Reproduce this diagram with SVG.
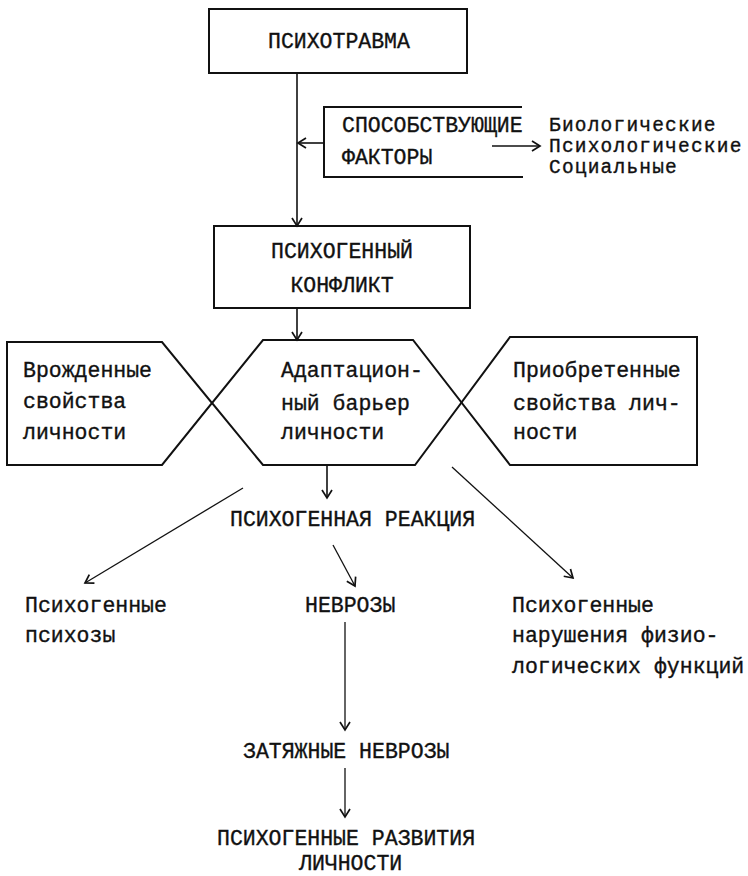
<svg xmlns="http://www.w3.org/2000/svg" width="748" height="876" viewBox="0 0 748 876">
  <style>
    .shape { fill: none; stroke: #111; stroke-width: 2; stroke-linejoin: miter; }
    .conn { fill: none; stroke: #111; stroke-width: 1.6; }
    .thin { stroke-width: 1.3; }
    text { font-family: "Liberation Mono", "DejaVu Sans Mono", monospace; font-size: 21.5px; fill: #111; stroke: #111; stroke-width: 0.35; }
    .list { font-size: 19.5px; letter-spacing: 1.2px; }
  </style>
  <defs>
    <marker id="arr" markerUnits="userSpaceOnUse" markerWidth="14" markerHeight="14" refX="11" refY="7" orient="auto">
      <path d="M3,2 L11,7 L3,12" fill="none" stroke="#111" stroke-width="1.7"/>
    </marker>
  </defs>
  <rect x="0" y="0" width="748" height="876" fill="#fff"/>

  <g id="psychotrauma">
    <rect class="shape" x="209" y="9" width="258" height="64"/>
    <text x="268" y="48">ПСИХОТРАВМА</text>
  </g>

  <g id="factors">
    <path class="shape" d="M522,107 L324,107 L324,177 L523,177"/>
    <text x="342" y="132">СПОСОБСТВУЮЩИЕ</text>
    <text x="342" y="164">ФАКТОРЫ</text>
  </g>

  <g id="factor-list">
    <text class="list" x="549" y="131">Биологические</text>
    <text class="list" x="549" y="152">Психологические</text>
    <text class="list" x="549" y="173">Социальные</text>
  </g>

  <g id="conflict">
    <rect class="shape" x="214" y="226" width="256" height="82"/>
    <text x="342" y="258" text-anchor="middle">ПСИХОГЕННЫЙ</text>
    <text x="342" y="292" text-anchor="middle">КОНФЛИКТ</text>
  </g>

  <g id="innate">
    <polygon class="shape" points="7,342 162,342 212,403 162,465 7,465"/>
    <text x="23" y="377">Врожденные</text>
    <text x="23" y="408">свойства</text>
    <text x="23" y="439">личности</text>
  </g>

  <g id="barrier">
    <polygon class="shape" points="263,340 413,340 461.5,402.5 415,465 263,465 212,403"/>
    <text x="281" y="377">Адаптацион-</text>
    <text x="281" y="410">ный барьер</text>
    <text x="281" y="439">личности</text>
  </g>

  <g id="acquired">
    <polygon class="shape" points="510,337 697,337 697,465 510,465 461.5,402.5"/>
    <text x="513" y="377">Приобретенные</text>
    <text x="513" y="410">свойства лич-</text>
    <text x="513" y="439">ности</text>
  </g>

  <g id="reaction">
    <text x="230" y="526">ПСИХОГЕННАЯ РЕАКЦИЯ</text>
  </g>

  <g id="psychoses">
    <text x="25" y="612">Психогенные</text>
    <text x="25" y="642">психозы</text>
  </g>

  <g id="neuroses">
    <text x="305" y="612">НЕВРОЗЫ</text>
  </g>

  <g id="physio">
    <text x="512" y="612">Психогенные</text>
    <text x="512" y="642">нарушения физио-</text>
    <text x="512" y="673">логических функций</text>
  </g>

  <g id="prolonged">
    <text x="243" y="758">ЗАТЯЖНЫЕ НЕВРОЗЫ</text>
  </g>

  <g id="development">
    <text x="217" y="845">ПСИХОГЕННЫЕ РАЗВИТИЯ</text>
    <text x="299" y="870">ЛИЧНОСТИ</text>
  </g>

  <g id="connectors">
    <line class="conn" x1="297" y1="73" x2="297" y2="226" marker-end="url(#arr)"/>
    <line class="conn" x1="324" y1="143" x2="298" y2="143" marker-end="url(#arr)"/>
    <line class="conn" x1="492" y1="146" x2="540" y2="146" marker-end="url(#arr)"/>
    <line class="conn" x1="297" y1="308" x2="297" y2="340" marker-end="url(#arr)"/>
    <line class="conn" x1="327" y1="465" x2="327" y2="498" marker-end="url(#arr)"/>
    <line class="conn thin" x1="243" y1="488" x2="85" y2="583" marker-end="url(#arr)"/>
    <line class="conn thin" x1="452" y1="467" x2="573" y2="578" marker-end="url(#arr)"/>
    <line class="conn thin" x1="333" y1="545" x2="355" y2="586" marker-end="url(#arr)"/>
    <line class="conn thin" x1="345" y1="622" x2="345" y2="730" marker-end="url(#arr)"/>
    <line class="conn thin" x1="345" y1="768" x2="345" y2="817" marker-end="url(#arr)"/>
  </g>
</svg>
